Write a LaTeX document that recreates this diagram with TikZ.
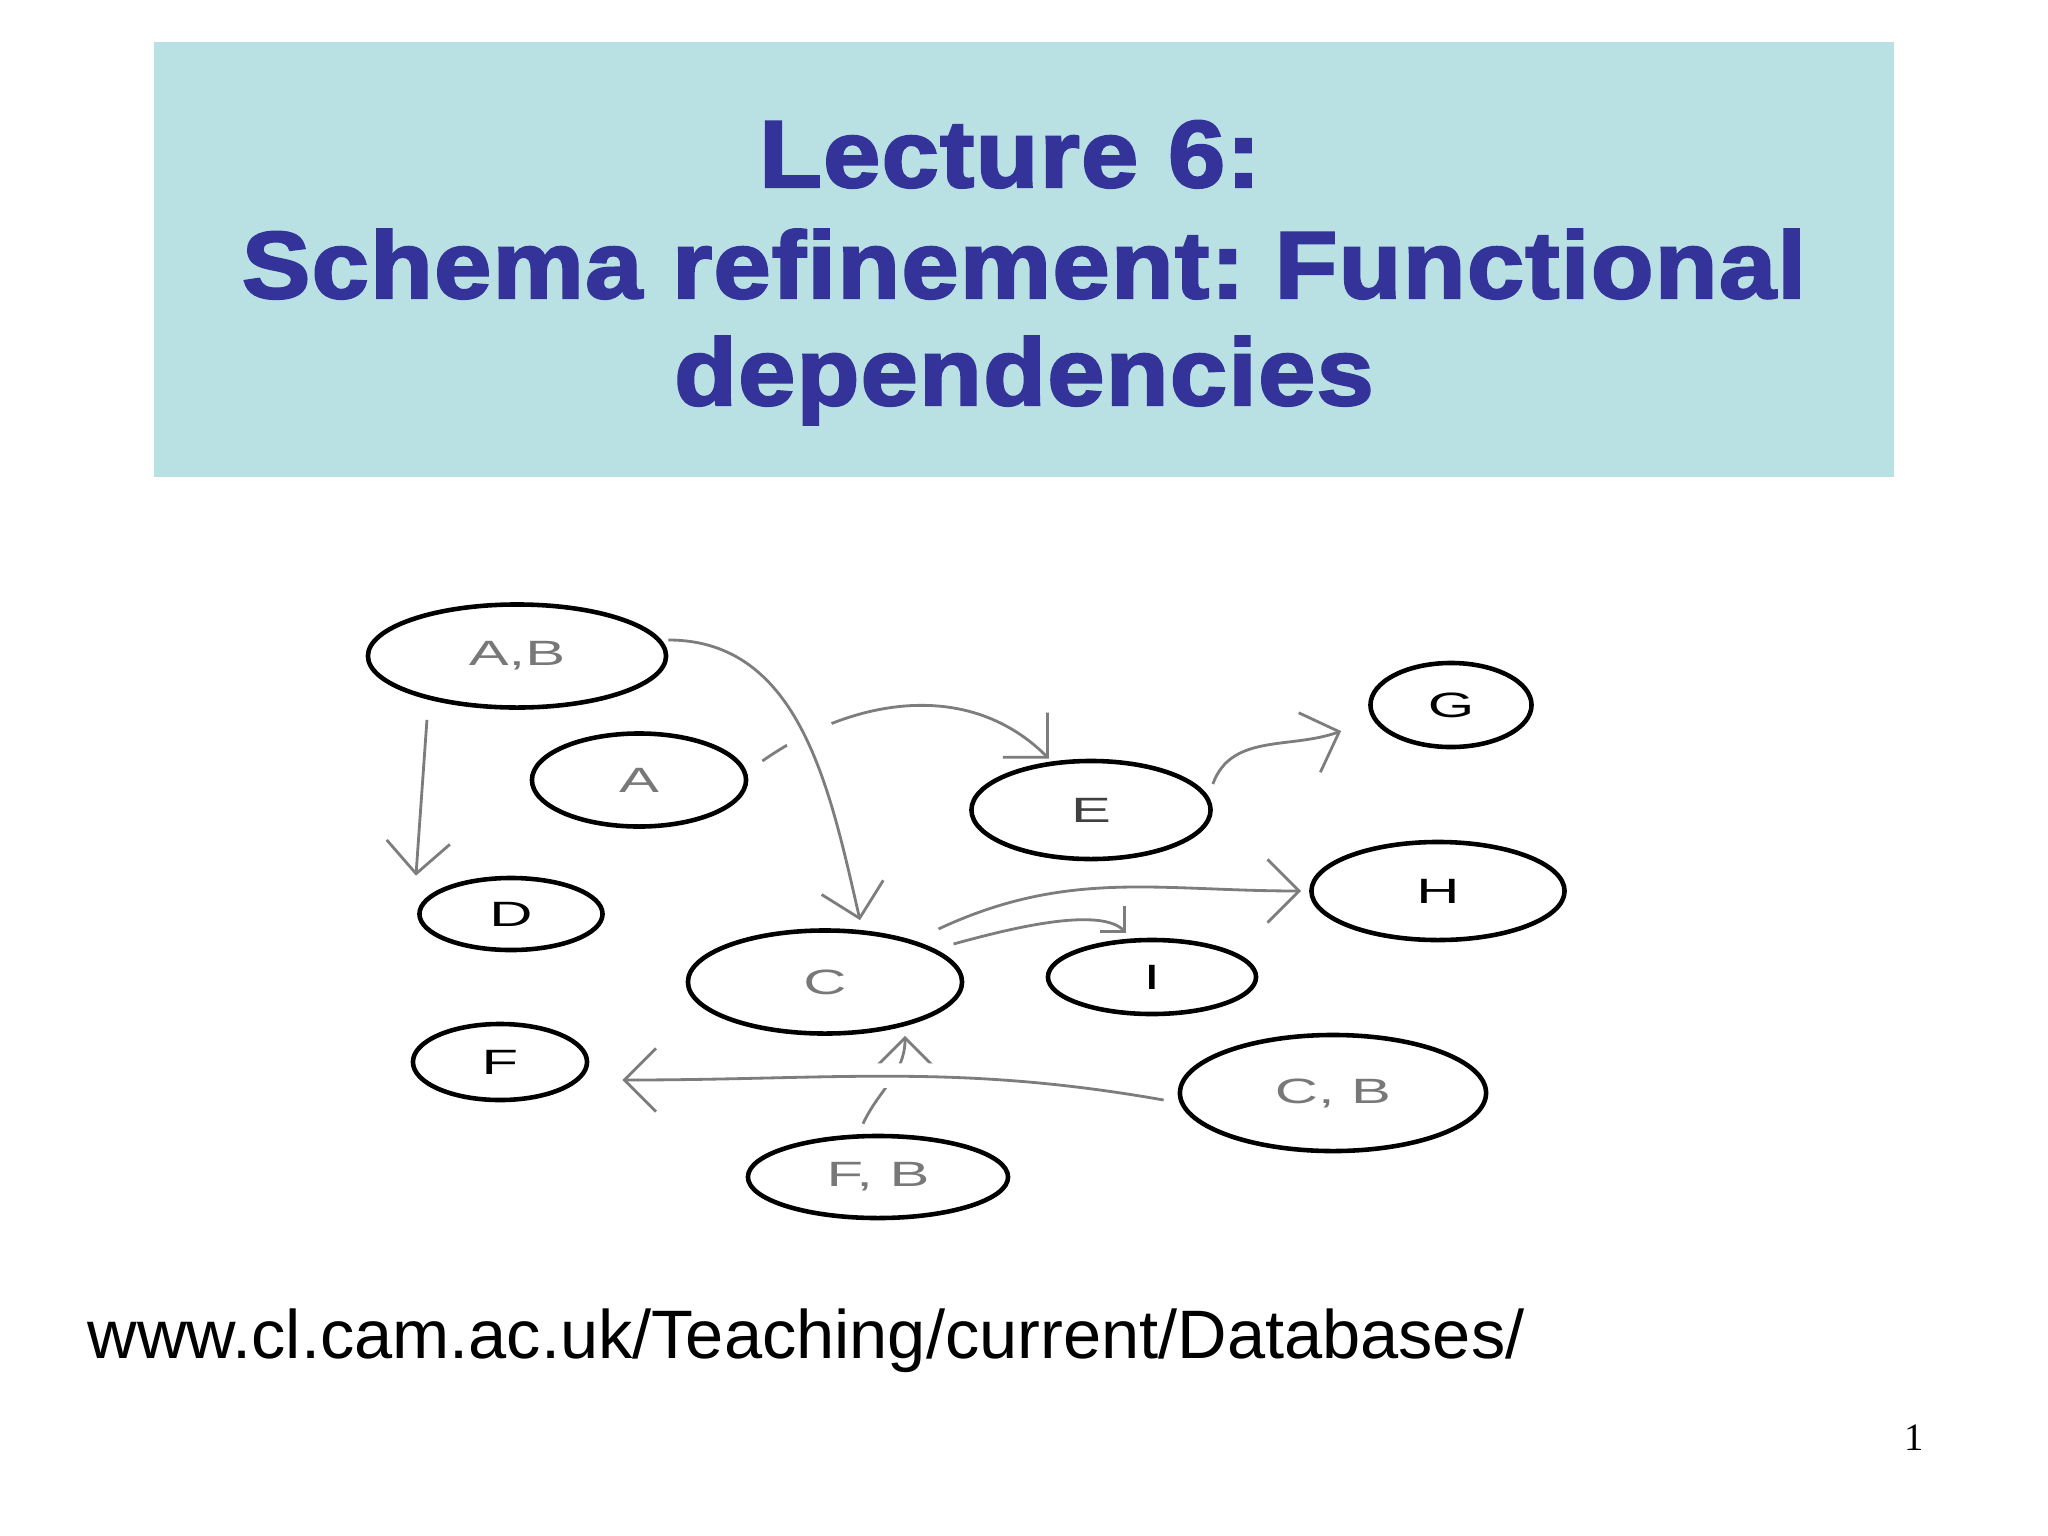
\documentclass[tikz,border=0pt]{standalone}
\usepackage{fontspec}
\setmainfont{Liberation Serif}
\setsansfont{Liberation Sans}
\newfontfamily\titlefont{Liberation Sans Bold}[FakeStretch=1.08, FakeBold=2.5, LetterSpace=1.5]
\usepackage{graphicx}
\usetikzlibrary{arrows.meta,shapes.geometric}

\definecolor{titlefill}{RGB}{185,224,227}
\definecolor{titleblue}{RGB}{51,51,153}
\definecolor{arrowgray}{RGB}{125,125,125}
\definecolor{labelgray}{RGB}{120,120,120}

% stretched sans letters inside the blobs
\newcommand{\blobtext}[1]{\scalebox{1.7}[1]{\sffamily\fontsize{10}{10}\selectfont #1}}

\tikzset{
  bridge/.style={preaction={draw=white, line width=#1, arrows=-, shorten <=0.3cm, shorten >=0.6cm}}
}

\begin{document}
\frenchspacing
\begin{tikzpicture}[x=0.01cm,y=-0.01cm]
    \useasboundingbox (0,0) rectangle (2048,1536);
    \fill[titlefill] (154,42) rectangle (1894,477);
    \begin{scope}[every node/.style={text=titleblue, anchor=base, font=\titlefont\fontsize{27}{31}\selectfont}]
    \node (title1) at (1010,187) {Lecture 6:};
    \node (title2) at (1024,298) {Schema refinement: Functional};
    \node (title3) at (1024,405) {dependencies};
    \end{scope}
    \begin{scope}[every node/.style={ellipse,draw,line width=1.3pt,inner sep=0pt,text=labelgray}]
    \node[minimum width=2.98cm, minimum height=1.03cm] (AB) at (517,656) {\blobtext{A,B}};
    \node[minimum width=2.14cm, minimum height=0.93cm] (A) at (639,780) {\blobtext{A}};
    \node[minimum width=2.39cm, minimum height=0.98cm, text=darkgray] (E) at (1091,810) {\blobtext{E}};
    \node[minimum width=1.61cm, minimum height=0.84cm, text=black] (G) at (1451,705) {\blobtext{G}};
    \node[minimum width=2.53cm, minimum height=0.98cm, text=black] (H) at (1438,891) {\blobtext{H}};
    \node[minimum width=1.83cm, minimum height=0.72cm, text=black] (D) at (511,914) {\blobtext{D}};
    \node[minimum width=2.74cm, minimum height=1.03cm] (C) at (825,982) {\blobtext{C}};
    \node[minimum width=2.08cm, minimum height=0.74cm, text=black] (I) at (1152,977) {\blobtext{I}};
    \node[minimum width=1.74cm, minimum height=0.76cm, text=black] (F) at (500,1062) {\blobtext{F}};
    \node[minimum width=3.06cm, minimum height=1.16cm] (CB) at (1333,1093) {\blobtext{C, B}};
    \node[minimum width=2.60cm, minimum height=0.82cm] (FB) at (878,1177) {\blobtext{F, B}};
    \end{scope}
    \begin{scope}[every edge/.style={draw=arrowgray, line width=0.8pt, -{Straight Barb[length=9pt,width=18pt]}}]
    \path ([xshift=-0.9cm,yshift=-0.1cm]AB.south) edge ([xshift=-0.95cm]D.north);
    \path ([xshift=0.14cm,yshift=0.19cm]A.east) edge[out=35,in=135] ([xshift=-0.42cm]E.north);
    \path ([yshift=0.16cm]AB.east) edge[out=0,in=103,bridge=14pt] ([xshift=0.35cm,yshift=0.08cm]C.north);
    \path ([yshift=0.26cm]E.east) edge[out=70,in=200] ([xshift=-0.27cm,yshift=-0.26cm]G.west);
    \path ([xshift=0.15cm,yshift=0.15cm]C.north east) edge[out=25,in=180] ([xshift=-0.08cm]H.west);
    \path ([xshift=0.3cm]C.north east) edge[out=15,in=135,looseness=0.6,-{Straight Barb[length=5pt,width=10pt]}] ([xshift=-0.26cm,yshift=0.05cm]I.north);
    \path ([xshift=-0.15cm,yshift=0.1cm]FB.north) edge[out=65,in=-90] ([xshift=0.8cm]C.south);
    \path ([xshift=-0.14cm,yshift=-0.07cm]CB.west) edge[out=170,in=0,bridge=7pt] ([xshift=0.33cm,yshift=-0.18cm]F.east);
    \end{scope}
    \node[anchor=base west, inner sep=0pt, font=\sffamily\fontsize{19.5}{23}\selectfont] (url) at (87,1358) {www.cl.cam.ac.uk/Teaching/current/Databases/};
    \node[anchor=base, font=\fontsize{11}{13}\selectfont] (pagenum) at (1914,1450) {1};
\end{tikzpicture}
\end{document}
